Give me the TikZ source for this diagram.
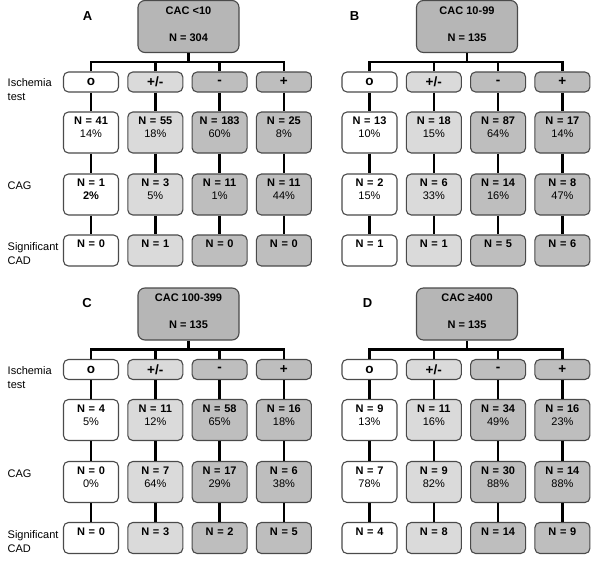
\documentclass[tikz,border=0pt]{standalone}
\usepackage{fontspec}
\setmainfont{Liberation Sans}
\definecolor{lightc}{HTML}{DADADA}
\definecolor{midc}{HTML}{BEBEBE}
\definecolor{topc}{HTML}{B6B6B6}
\definecolor{bordc}{HTML}{4A4A4A}
\newcommand\mycell[2]{\parbox[c][41pt][t]{55pt}{\centering\rule{0pt}{12.5pt}\textbf{N = #1}\\#2}}
\newcommand\mylast[1]{\parbox[c][31pt][t]{55pt}{\centering\rule{0pt}{12.5pt}\textbf{N = #1}}}
\newcommand\mytop[2]{\parbox[c][52pt][t]{101pt}{\centering\bfseries\fontsize{11}{27}\selectfont\rule{0pt}{13.8pt}#1\\N = #2}}
% column: #1 index, #2 fill style, #3 L1 text, #4 L2 N, #5 L2 pct, #6 L3 N, #7 L3 pct, #8 L4 N
\newcommand\bcol[8]{%
  \pgfmathsetmacro\cx{\ox+91+(#1-1)*64.3}%
  \node[box,#2,minimum height=20pt,font=\bfseries\fontsize{13.5}{14}\selectfont] (\pp-#1a) at (\cx,\oy+82) {#3};
  \node[box,#2,minimum height=41pt] (\pp-#1b) at (\cx,\oy+132.5) {\mycell{#4}{#5}};
  \node[box,#2,minimum height=41pt] (\pp-#1c) at (\cx,\oy+194.5) {\mycell{#6}{#7}};
  \node[box,#2,minimum height=31pt] (\pp-#1d) at (\cx,\oy+250.5) {\mylast{#8}};
  \draw[link] (\pp-#1a) -- (\pp-#1b);
  \draw[link] (\pp-#1b) -- (\pp-#1c);
  \draw[link] (\pp-#1c) -- (\pp-#1d);
}
% panel top: #1 prefix, #2 ox, #3 oy, #4 title, #5 N, #6 letter, #7 letter x
\newcommand\ptop[7]{%
  \def\pp{#1}\def\ox{#2}\def\oy{#3}%
  \node[topbox] (#1-t) at (#2+188.5,#3+26.5) {\mytop{#4}{#5}};
  \node[plabel] (#1-lab) at (#7,#3+16) {#6};
}
\newcommand\pbar{%
  \coordinate (\pp-j) at (\pp-t.south |- 0,\oy+62);
  \draw[link] (\pp-t) -- (\pp-j);
  \draw[link,line join=miter] (\pp-1a.north) |- (\pp-j) -| (\pp-4a.north);
  \draw[link] (\pp-2a.north) -- (\pp-2a.north |- \pp-j);
  \draw[link] (\pp-3a.north) -- (\pp-3a.north |- \pp-j);
}
\newcommand\rowlabels[2]{%
  \node[rowlab] (#1-r1) at (7.5,#2+90) {Ischemia\\test};
  \node[rowlab] (#1-r2) at (7.5,#2+186) {CAG};
  \node[rowlab] (#1-r3) at (7.5,#2+254) {Significant\\CAD};
}
\begin{document}
\begin{tikzpicture}[x=1pt,y=-1pt,
  box/.style={draw=bordc, line width=1.1pt, rounded corners=5pt, inner sep=0pt,
    minimum width=55pt, text width=55pt, align=center, font=\fontsize{11}{13}\selectfont},
  fillw/.style={fill=white}, filll/.style={fill=lightc}, fillm/.style={fill=midc},
  topbox/.style={draw=bordc, fill=topc, line width=1.1pt, rounded corners=7pt, inner sep=0pt,
    minimum width=101pt, minimum height=52pt},
  link/.style={line width=2.4pt, draw=black},
  rowlab/.style={anchor=west, align=left, inner sep=0pt, font=\fontsize{11}{14}\selectfont},
  plabel/.style={inner sep=0pt, font=\bfseries\fontsize{13}{14}\selectfont}]
\useasboundingbox (0,0) rectangle (600,565);
\fill[white] (0,0) rectangle (600,565);

% Panel A
\ptop{A}{0}{0}{CAC <10}{304}{A}{87.5}
\bcol{1}{fillw}{o}{41}{14\%}{1}{\textbf{2\%}}{0}
\bcol{2}{filll}{+/-}{55}{18\%}{3}{5\%}{1}
\bcol{3}{fillm}{-}{183}{60\%}{11}{1\%}{0}
\bcol{4}{fillm}{+}{25}{8\%}{11}{44\%}{0}
\pbar
\rowlabels{A}{0}

% Panel B
\ptop{B}{278.5}{0}{CAC 10-99}{135}{B}{354.5}
\bcol{1}{fillw}{o}{13}{10\%}{2}{15\%}{1}
\bcol{2}{filll}{+/-}{18}{15\%}{6}{33\%}{1}
\bcol{3}{fillm}{-}{87}{64\%}{14}{16\%}{5}
\bcol{4}{fillm}{+}{17}{14\%}{8}{47\%}{6}
\pbar

% Panel C
\ptop{C}{0}{287.5}{CAC 100-399}{135}{C}{87}
\bcol{1}{fillw}{o}{4}{5\%}{0}{0\%}{0}
\bcol{2}{filll}{+/-}{11}{12\%}{7}{64\%}{3}
\bcol{3}{fillm}{-}{58}{65\%}{17}{29\%}{2}
\bcol{4}{fillm}{+}{16}{18\%}{6}{38\%}{5}
\pbar
\rowlabels{C}{287.5}

% Panel D
\ptop{D}{278.5}{287.5}{CAC ≥400}{135}{D}{367.5}
\bcol{1}{fillw}{o}{9}{13\%}{7}{78\%}{4}
\bcol{2}{filll}{+/-}{11}{16\%}{9}{82\%}{8}
\bcol{3}{fillm}{-}{34}{49\%}{30}{88\%}{14}
\bcol{4}{fillm}{+}{16}{23\%}{14}{88\%}{9}
\pbar
\end{tikzpicture}
\end{document}
